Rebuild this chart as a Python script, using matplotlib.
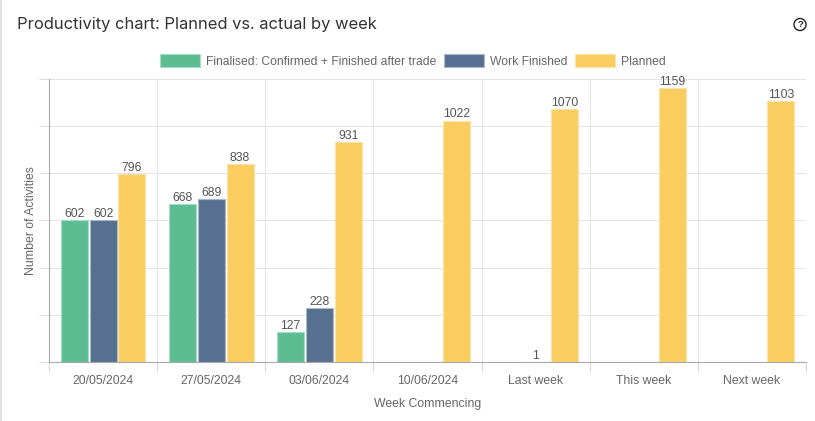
# ライブラリの読み込み
import matplotlib.pyplot as plt
from matplotlib.patches import Patch

# 週のラベルとシリーズごとの値を格納
weeks = ["20/05/2024", "27/05/2024", "03/06/2024", "10/06/2024", "Last week", "This week", "Next week"]
finalised = [602, 668, 127, 0, 0, 0, 0]
work_finished = [602, 689, 228, 0, 1, 0, 0]
planned = [796, 838, 931, 1022, 1070, 1159, 1103]
series_names = ["Finalised: Confirmed + Finished after trade", "Work Finished", "Planned"]
y_ticks = [0, 200, 400, 600, 800, 1000, 1200]

# シリーズの色
fill_colors = ["#5bbd91", "#587090", "#f9cd5f"]
edge_colors = ["#a5dcc3", "#a9b8cc", "#fce3a5"]
text_color = "#666666"

plt.rcParams["font.family"] = ["Liberation Sans", "DejaVu Sans"]

fig = plt.figure(figsize=(8.15, 4.21), dpi=100)
ax = fig.add_axes([49 / 815, (421 - 362) / 421, (806 - 49) / 815, (362 - 78.5) / 421])

# 棒グラフを描画する
all_values = [finalised, work_finished, planned]
for i, values in enumerate(all_values):
    x = [n + (i - 1) * 0.267 for n in range(len(weeks))]
    bars = ax.bar(x, values, width=0.25, color=fill_colors[i], edgecolor=edge_colors[i], linewidth=0.8, zorder=3)
    for bar, value in zip(bars, values):
        # 値が0の棒は枠線を消してラベルも付けない
        if value == 0:
            bar.set_visible(False)
            continue
        ax.text(bar.get_x() + bar.get_width() / 2, value + 1, str(value), ha="center", va="bottom",
                fontsize=8.8, color="#555555", clip_on=False, zorder=4)

ax.set_xlim(-0.5, len(weeks) - 0.5)
ax.set_ylim(0, 1200)

# 目盛りと罫線を設定する
ax.set_yticks(y_ticks)
ax.set_yticklabels([])
ax.set_xticks(range(len(weeks)))
ax.set_xticklabels(weeks, fontsize=8.8, color=text_color)
ax.tick_params(axis="x", length=0, pad=9)
ax.tick_params(axis="y", length=7, width=0.7, color="#dddddd")
ax.grid(axis="y", color="#e4e4e4", linewidth=0.7, zorder=0)
for n in range(len(weeks) + 1):
    ax.axvline(n - 0.5, color="#e4e4e4", linewidth=0.7, zorder=0)
    ax.plot([n - 0.5, n - 0.5], [0, -0.035], transform=ax.get_xaxis_transform(), color="#d8d8d8",
            linewidth=0.7, clip_on=False)

for side in ["top", "right"]:
    ax.spines[side].set_visible(False)
for side in ["left", "bottom"]:
    ax.spines[side].set_color("#a8a8a8")
    ax.spines[side].set_linewidth(0.8)
    ax.spines[side].set_zorder(5)

ax.set_xlabel("Week Commencing", fontsize=8.8, color=text_color, labelpad=8)
ax.set_ylabel("Number of Activities", fontsize=8.8, color=text_color)
ax.yaxis.set_label_coords(-12 / 757, 0.5)

# 凡例を描画する
handles = [Patch(facecolor=c, edgecolor=e, linewidth=0.8) for c, e in zip(fill_colors, edge_colors)]
fig.legend(handles, series_names, ncol=3, loc="center", bbox_to_anchor=(413 / 815, (421 - 61) / 421), frameon=False,
           fontsize=8.7, labelcolor=text_color, handlelength=3.3, handleheight=1.2, handletextpad=0.5,
           columnspacing=0.65, borderpad=0, borderaxespad=0)

# タイトルとヘルプアイコン
fig.text(17 / 815, (421 - 25) / 421, "Productivity chart: Planned vs. actual by week", fontsize=11.9, color="#333333",
         family=["Inter", "DejaVu Sans"], va="center", ha="left")
fig.text(800 / 815, (421 - 24.5) / 421, "?", fontsize=6.8, color="#222222", weight="bold", ha="center", va="center",
         bbox=dict(boxstyle="circle,pad=0.16", facecolor="white", edgecolor="#222222", linewidth=1))

# 左端の枠線
fig.add_artist(plt.Line2D([0.8 / 815, 0.8 / 815], [0, 1], color="#dddddd", linewidth=1.2))

plt.savefig("out.png", dpi=100)
